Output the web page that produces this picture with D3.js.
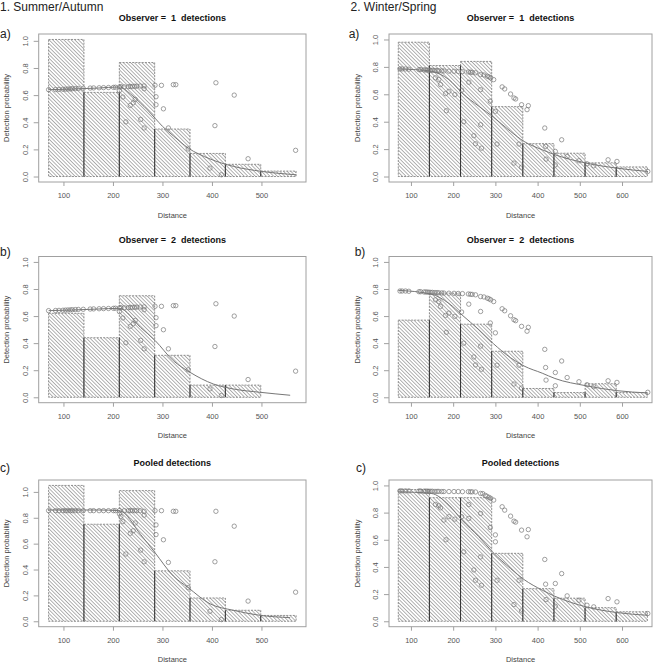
<!DOCTYPE html>
<html>
<head>
<meta charset="utf-8">
<script src="https://cdn.jsdelivr.net/npm/d3@7"></script>
<style>
body{margin:0;background:#fff;}
text{font-family:"Liberation Sans",Arial,sans-serif;}
</style>
</head>
<body>
<script>
// ---- data ----
var seasonLabels = ['1. Summer/Autumn', '2. Winter/Spring'];
var panelTitles = ['Observer =  1  detections', 'Observer =  2  detections', 'Pooled detections'];
var panelTags = ['a)', 'b)', 'c)'];

var ticksY = [0, 0.2, 0.4, 0.6, 0.8, 1.0];
var ticksSummer = [100, 200, 300, 400, 500];
var ticksWinter = [100, 200, 300, 400, 500, 600];

// histogram bins
var edgesSummer = [70, 141.4, 212.9, 284.3, 355.7, 427.1, 498.6, 570];
var edgesWinter = [70, 143.75, 217.5, 291.25, 365, 438.75, 512.5, 586.25, 660];

var histSummer1 = [1.01, 0.62, 0.84, 0.35, 0.17, 0.09, 0.04];
var histSummer2 = [0.62, 0.44, 0.75, 0.31, 0.09, 0.09, 0];
var histSummerP = [1.05, 0.75, 1.01, 0.39, 0.18, 0.085, 0.045];

var histWinter1 = [0.98, 0.81, 0.84, 0.51, 0.24, 0.17, 0.10, 0.07];
var histWinter2 = [0.57, 0.77, 0.54, 0.34, 0.065, 0.035, 0.10, 0.035];
var histWinterP = [0.97, 0.91, 0.91, 0.50, 0.24, 0.17, 0.10, 0.07];

// fitted detection functions
var fitSummer1 = [[70,0.64],[120,0.645],[170,0.652],[213,0.66],[235,0.61],[256,0.54],[270,0.49],[285,0.43],[300,0.37],[322,0.30],[352,0.21],[396,0.13],[443,0.075],[500,0.038],[570,0.013]];
var fitSummer2 = [[70,0.64],[120,0.645],[170,0.652],[213,0.657],[256,0.515],[285,0.42],[322,0.27],[356,0.184],[403,0.098],[444,0.061],[497,0.037],[558,0.015]];
var fitSummerP = [[70,0.86],[120,0.86],[170,0.86],[213,0.855],[256,0.67],[285,0.53],[322,0.35],[352,0.26],[396,0.135],[443,0.085],[497,0.046],[558,0.028]];

var fitWinter1 = [[70,0.785],[110,0.78],[148,0.768],[190,0.707],[221,0.61],[261,0.512],[295,0.434],[336,0.329],[368,0.256],[411,0.195],[441,0.159],[515,0.098],[588,0.061],[661,0.037]];
var fitWinter2 = [[70,0.79],[148,0.762],[190,0.693],[221,0.608],[261,0.499],[295,0.397],[336,0.292],[368,0.231],[411,0.178],[441,0.139],[515,0.085],[588,0.049],[661,0.032]];
var fitWinterP = [[70,0.953],[148,0.941],[190,0.855],[221,0.744],[261,0.622],[295,0.504],[336,0.388],[368,0.307],[411,0.229],[441,0.184],[515,0.106],[588,0.064],[661,0.044]];

// observation-level detection probabilities
var obsSummer = [[70,0.64],[84,0.641],[91,0.642],[99,0.643],[104,0.644],[109,0.645],[114,0.646],[118,0.647],[124,0.648],[130,0.649],[140,0.65],[154,0.652],[161,0.653],[172,0.654],[181,0.655],[191,0.656],[201,0.657],[205,0.658],[213,0.66],[223,0.661],[231,0.662],[235,0.663],[239,0.664],[244,0.665],[248,0.666],[255,0.667],[263,0.668],
  [213,0.633],[216,0.662],[220,0.586],[226,0.403],[235,0.524],[241,0.543],[245,0.568],[256,0.42],[263,0.358],[263,0.647],[285,0.672],[287,0.588],[287,0.529],[298,0.672],[302,0.499],[312,0.358],[322,0.677],[327,0.677],[352,0.203],[396,0.062],[406,0.375],[408,0.691],[419,0.013],[445,0.6],[473,0.131],[569,0.193]];
var obsSummerP = [[70,0.855],[84,0.855],[91,0.855],[99,0.855],[104,0.855],[109,0.855],[114,0.855],[118,0.855],[124,0.855],[130,0.855],[140,0.855],[154,0.855],[161,0.855],[172,0.855],[181,0.855],[191,0.855],[201,0.855],[205,0.855],[213,0.855],[223,0.855],[231,0.855],[235,0.855],[239,0.855],[244,0.855],[248,0.855],[255,0.855],[263,0.85],
  [213,0.83],[216,0.81],[220,0.77],[226,0.52],[235,0.68],[241,0.70],[245,0.76],[256,0.55],[263,0.46],[263,0.82],[285,0.855],[287,0.745],[287,0.67],[298,0.855],[302,0.63],[312,0.455],[322,0.85],[327,0.85],[352,0.26],[396,0.077],[406,0.46],[408,0.85],[419,0.013],[445,0.735],[473,0.156],[569,0.225]];

var obsWinter = [[74,0.785],[79,0.785],[87,0.785],[95,0.783],[119,0.78],[123,0.78],[131,0.778],[135,0.778],[139,0.777],[143,0.776],[147,0.775],[151,0.775],[157,0.774],[162,0.773],[166,0.772],[173,0.771],[178,0.77],[190,0.769],[202,0.768],[212,0.767],[222,0.766],
  [236,0.763],[241,0.761],[245,0.76],[253,0.757],[265,0.744],[273,0.741],[281,0.732],[285,0.727],[289,0.72],[296,0.707],[316,0.654],[322,0.639],[336,0.602],[344,0.573],[348,0.566],[362,0.524],[375,0.488],[378,0.517],
  [158,0.72],[166,0.707],[170,0.671],[182,0.605],[184,0.48],[190,0.622],[204,0.598],[220,0.63],[225,0.40],[237,0.688],[249,0.298],[253,0.239],[265,0.378],[265,0.634],[267,0.207],[288,0.549],[300,0.476],[304,0.237],[344,0.098],[356,0.237],[362,0.068],[417,0.354],[419,0.22],[420,0.127],[442,0.183],[442,0.085],[457,0.268],[470,0.146],[498,0.115],[517,0.093],[533,0.078],[567,0.122],[588,0.11],[661,0.037]];
var obsWinterP = [[74,0.96],[79,0.96],[87,0.96],[95,0.96],[119,0.959],[123,0.959],[131,0.958],[135,0.958],[139,0.958],[143,0.957],[147,0.957],[151,0.957],[157,0.956],[162,0.956],[166,0.956],[173,0.955],[178,0.955],[190,0.955],[202,0.955],[212,0.955],[222,0.954],
  [236,0.954],[241,0.953],[245,0.953],[253,0.952],[265,0.941],[270,0.94],[276,0.927],[280,0.92],[285,0.912],[289,0.905],[296,0.892],[316,0.843],[322,0.818],[336,0.774],[344,0.737],[348,0.73],[362,0.671],[375,0.622],[378,0.675],
  [158,0.86],[166,0.85],[170,0.835],[178,0.745],[183,0.60],[190,0.77],[204,0.752],[220,0.77],[225,0.511],[237,0.86],[237,0.757],[249,0.378],[253,0.302],[265,0.474],[265,0.794],[267,0.265],[288,0.69],[300,0.636],[300,0.585],[304,0.302],[344,0.123],[356,0.302],[362,0.076],[417,0.455],[419,0.273],[420,0.16],[442,0.278],[442,0.111],[457,0.351],[470,0.187],[498,0.155],[517,0.118],[533,0.106],[567,0.167],[588,0.143],[661,0.057]];

// ---- layout ----
var W = 658, H = 663;
var cols = [
	{l: 38.7, r: 306, xDomain: [50, 590], ticks: ticksSummer, headX: 0},
	{l: 389, r: 652, xDomain: [48, 671], ticks: ticksWinter, headX: 350.5}
];
var rows = [
	{t: 34, b: 182, tagY: 37.5, titleY: 20.5},
	{t: 256.5, b: 402.7, tagY: 256, titleY: 242.5},
	{t: 480, b: 626.7, tagY: 472, titleY: 465.5}
];
var tagX = [[0, 348.7], [0, 354.7], [0, 356]];

var panels = [
	{col: 0, row: 0, edges: edgesSummer, hist: histSummer1, fit: fitSummer1, obs: obsSummer},
	{col: 0, row: 1, edges: edgesSummer, hist: histSummer2, fit: fitSummer2, obs: obsSummer},
	{col: 0, row: 2, edges: edgesSummer, hist: histSummerP, fit: fitSummerP, obs: obsSummerP},
	{col: 1, row: 0, edges: edgesWinter, hist: histWinter1, fit: fitWinter1, obs: obsWinter},
	{col: 1, row: 1, edges: edgesWinter, hist: histWinter2, fit: fitWinter2, obs: obsWinter},
	{col: 1, row: 2, edges: edgesWinter, hist: histWinterP, fit: fitWinterP, obs: obsWinterP}
];

var svg = d3.select('body').append('svg')
	.attr('width', W)
	.attr('height', H)
	.style('display', 'block');

svg.append('rect').attr('width', W).attr('height', H).attr('fill', '#fff');

var defs = svg.append('defs');
var pat = defs.append('pattern')
	.attr('id', 'hatch')
	.attr('patternUnits', 'userSpaceOnUse')
	.attr('width', 4)
	.attr('height', 2.6)
	.attr('patternTransform', 'rotate(45)');
pat.append('rect').attr('width', 4).attr('height', 2.6).attr('fill', '#fff');
pat.append('line')
	.attr('x1', 0).attr('y1', 1.3)
	.attr('x2', 4).attr('y2', 1.3)
	.attr('stroke', '#8a8a8a')
	.attr('stroke-width', 0.7);

// season headings
seasonLabels.forEach(function(s, i){
	svg.append('text')
		.attr('x', cols[i].headX)
		.attr('y', 11)
		.attr('font-size', 12)
		.attr('fill', '#222')
		.text(s);
});

panels.forEach(function(p){
	var c = cols[p.col], r = rows[p.row];

	var yTop = Math.max(1, d3.max(p.hist));
	var pad = yTop * 0.04;
	var x = d3.scaleLinear().domain(c.xDomain).range([c.l, c.r]);
	var y = d3.scaleLinear().domain([-pad, yTop + pad]).range([r.b, r.t]);

	var g = svg.append('g').classed('panel', true);

	// title
	g.append('text')
		.attr('x', (c.l + c.r) / 2)
		.attr('y', r.titleY)
		.attr('text-anchor', 'middle')
		.attr('font-size', 9)
		.attr('font-weight', 'bold')
		.attr('fill', '#111')
		.style('white-space', 'pre')
		.text(panelTitles[p.row]);

	// panel tag
	g.append('text')
		.attr('x', tagX[p.row][p.col])
		.attr('y', r.tagY)
		.attr('font-size', 12)
		.attr('fill', '#222')
		.text(panelTags[p.row]);

	// bars
	var bars = p.hist.map(function(h, i){
		return {x0: p.edges[i], x1: p.edges[i + 1], h: h};
	}).filter(function(d){ return d.h > 0; });

	g.selectAll('rect.bar').data(bars).enter().append('rect')
		.attr('class', 'bar')
		.attr('x', function(d){ return x(d.x0); })
		.attr('width', function(d){ return x(d.x1) - x(d.x0); })
		.attr('y', function(d){ return y(d.h); })
		.attr('height', function(d){ return y(0) - y(d.h); })
		.attr('fill', 'url(#hatch)')
		.attr('stroke', '#777')
		.attr('stroke-width', 0.8)
		.attr('stroke-dasharray', '2,1.2');

	// darker shared edges between bars
	var shared = [];
	for (var i = 1; i < p.hist.length; i++) {
		var m = Math.min(p.hist[i - 1], p.hist[i]);
		if (m > 0) shared.push({x: p.edges[i], h: m});
	}
	g.selectAll('line.edge').data(shared).enter().append('line')
		.attr('class', 'edge')
		.attr('x1', function(d){ return x(d.x); })
		.attr('x2', function(d){ return x(d.x); })
		.attr('y1', y(0))
		.attr('y2', function(d){ return y(d.h); })
		.attr('stroke', '#333')
		.attr('stroke-width', 1);

	// fitted line
	g.append('path')
		.datum(p.fit)
		.attr('fill', 'none')
		.attr('stroke', '#777')
		.attr('stroke-width', 1)
		.attr('d', d3.line()
			.x(function(d){ return x(d[0]); })
			.y(function(d){ return y(d[1]); })
			.curve(d3.curveMonotoneX));

	// points
	g.selectAll('circle.obs').data(p.obs).enter().append('circle')
		.attr('class', 'obs')
		.attr('cx', function(d){ return x(d[0]); })
		.attr('cy', function(d){ return y(d[1]); })
		.attr('r', 2.2)
		.attr('fill', 'none')
		.attr('stroke', '#777')
		.attr('stroke-width', 0.7);

	// box
	g.append('rect')
		.attr('x', c.l).attr('y', r.t)
		.attr('width', c.r - c.l).attr('height', r.b - r.t)
		.attr('fill', 'none')
		.attr('stroke', '#a0a0a0')
		.attr('stroke-width', 1);

	// axes
	var xAxis = g.append('g')
		.attr('transform', 'translate(0,' + r.b + ')')
		.call(d3.axisBottom(x).tickValues(c.ticks).tickSize(4).tickPadding(7).tickFormat(d3.format('d')));
	var yAxis = g.append('g')
		.attr('transform', 'translate(' + c.l + ',0)')
		.call(d3.axisLeft(y).tickValues(ticksY).tickSize(5).tickFormat(d3.format('.1f')));

	[xAxis, yAxis].forEach(function(a){
		a.select('.domain').remove();
		a.selectAll('line').attr('stroke', '#a0a0a0');
		a.selectAll('text')
			.attr('fill', '#555')
			.attr('font-size', 7.5)
			.attr('font-family', '"Liberation Sans",Arial,sans-serif');
	});
	yAxis.selectAll('text')
		.attr('transform', 'rotate(-90)')
		.attr('x', 0)
		.attr('y', -11)
		.attr('dy', 0)
		.attr('text-anchor', 'middle');

	// axis titles
	g.append('text')
		.attr('x', (c.l + c.r) / 2)
		.attr('y', r.b + 35.5)
		.attr('text-anchor', 'middle')
		.attr('font-size', 7.5)
		.attr('fill', '#444')
		.text('Distance');
	g.append('text')
		.attr('transform', 'translate(' + (c.l - 29.5) + ',' + ((r.t + r.b) / 2) + ') rotate(-90)')
		.attr('text-anchor', 'middle')
		.attr('font-size', 7.5)
		.attr('fill', '#444')
		.text('Detection probability');
});
</script>
</body>
</html>
